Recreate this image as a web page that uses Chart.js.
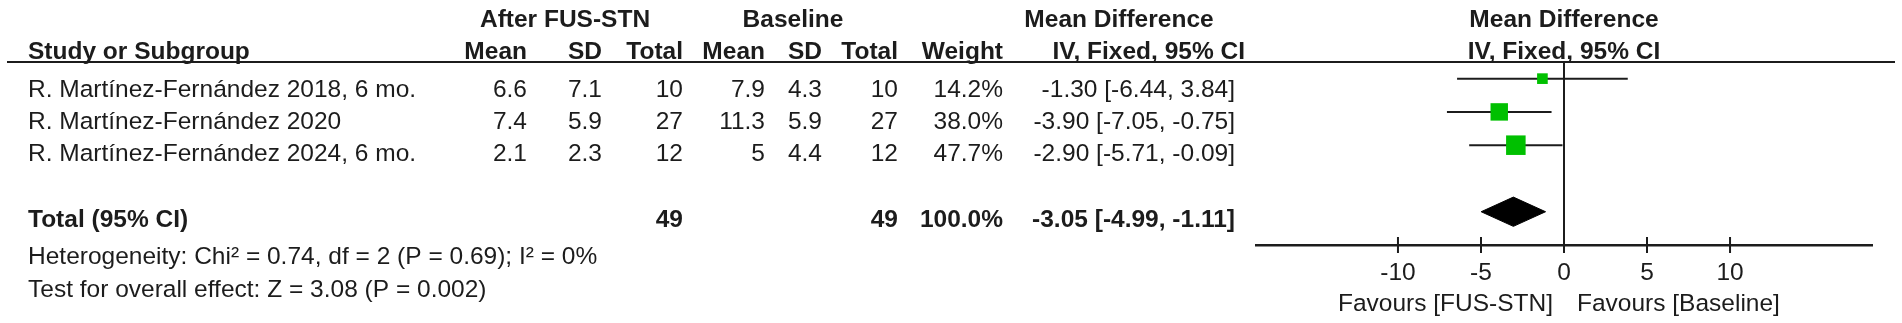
<!DOCTYPE html>
<html>
<head>
<meta charset="utf-8">
<script src="https://cdn.jsdelivr.net/npm/chart.js@4.4.1/dist/chart.umd.min.js"></script>
<style>
  html, body { margin: 0; padding: 0; background: #fff; }
  canvas { display: block; }
</style>
</head>
<body>
<canvas id="forest" width="1902" height="323"></canvas>
<script>
// study rows
const studies = ['R. Martínez-Fernández 2018, 6 mo.', 'R. Martínez-Fernández 2020', 'R. Martínez-Fernández 2024, 6 mo.'];
const expMean = [6.6, 7.4, 2.1];
const expSD = [7.1, 5.9, 2.3];
const expN = [10, 27, 12];
const ctrlMean = [7.9, 11.3, 5];
const ctrlSD = [4.3, 5.9, 4.4];
const ctrlN = [10, 27, 12];
const weights = [14.2, 38.0, 47.7];
const md = [-1.30, -3.90, -2.90];
const ciLow = [-6.44, -7.05, -5.71];
const ciHigh = [3.84, -0.75, -0.09];

// pooled result
const totalExpN = 49;
const totalCtrlN = 49;
const totalWeight = 100.0;
const totalMD = -3.05;
const totalLow = -4.99;
const totalHigh = 1.11 * -1;

const xTicks = [-10, -5, 0, 5, 10];
const heterogeneity = 'Heterogeneity: Chi² = 0.74, df = 2 (P = 0.69); I² = 0%';
const overallTest = 'Test for overall effect: Z = 3.08 (P = 0.002)';
const favoursLeft = 'Favours [FUS-STN]';
const favoursRight = 'Favours [Baseline]';

const FONT = '"Liberation Sans", Arial, sans-serif';
const INK = '#1c1c1c';
const GREEN = '#00c000';
const SIZE = 24.5;

const totalY = studies.length + 1.5;
const diamondHalf = 0.44;

function txt(ctx, s, x, y, align, bold) {
    ctx.font = (bold ? 'bold ' : '') + SIZE + 'px ' + FONT;
    ctx.textAlign = align;
    ctx.fillText(s, x, y);
}

const tablePlugin = {
    id: 'table',
    afterDraw(chart) {
        const ctx = chart.ctx;
        const area = chart.chartArea;
        const xs = chart.scales.x;
        ctx.save();
        ctx.fillStyle = INK;
        ctx.strokeStyle = INK;
        ctx.textBaseline = 'alphabetic';

        // header rule
        ctx.lineWidth = 2;
        ctx.beginPath();
        ctx.moveTo(7, area.top);
        ctx.lineTo(1895, area.top);
        ctx.stroke();

        // tick marks crossing the axis
        xs.ticks.forEach(t => {
            const px = xs.getPixelForValue(t.value);
            ctx.beginPath();
            ctx.moveTo(px, area.bottom - 8);
            ctx.lineTo(px, area.bottom + 8);
            ctx.stroke();
        });

        const cols = [527, 602, 683, 765, 822, 898, 1003, 1235];
        const mid = xs.getPixelForValue(0);

        // headers
        txt(ctx, 'After FUS-STN', 565, 27, 'center', true);
        txt(ctx, 'Baseline', 793, 27, 'center', true);
        txt(ctx, 'Mean Difference', 1119, 27, 'center', true);
        txt(ctx, 'Mean Difference', (area.left + area.right) / 2, 27, 'center', true);
        txt(ctx, 'Study or Subgroup', 28, 58.5, 'left', true);
        ['Mean', 'SD', 'Total', 'Mean', 'SD', 'Total', 'Weight'].forEach((h, i) => txt(ctx, h, cols[i], 58.5, 'right', true));
        txt(ctx, 'IV, Fixed, 95% CI', 1245, 58.5, 'right', true);
        txt(ctx, 'IV, Fixed, 95% CI', (area.left + area.right) / 2, 58.5, 'center', true);

        // study rows
        const rowBase = [97, 129, 161];
        studies.forEach((s, i) => {
            const y = rowBase[i];
            txt(ctx, s, 28, y, 'left', false);
            const cells = [expMean[i], expSD[i], expN[i], ctrlMean[i], ctrlSD[i], ctrlN[i]].map(String);
            cells.push(weights[i].toFixed(1) + '%');
            cells.push(md[i].toFixed(2) + ' [' + ciLow[i].toFixed(2) + ', ' + ciHigh[i].toFixed(2) + ']');
            cells.forEach((c, j) => txt(ctx, c, cols[j], y, 'right', false));
        });

        // total row
        txt(ctx, 'Total (95% CI)', 28, 227, 'left', true);
        txt(ctx, String(totalExpN), cols[2], 227, 'right', true);
        txt(ctx, String(totalCtrlN), cols[5], 227, 'right', true);
        txt(ctx, totalWeight.toFixed(1) + '%', cols[6], 227, 'right', true);
        txt(ctx, totalMD.toFixed(2) + ' [' + totalLow.toFixed(2) + ', ' + totalHigh.toFixed(2) + ']', cols[7], 227, 'right', true);

        txt(ctx, heterogeneity, 28, 263.5, 'left', false);
        txt(ctx, overallTest, 28, 297, 'left', false);

        txt(ctx, favoursLeft, mid - 11, 310.5, 'right', false);
        txt(ctx, favoursRight, mid + 13, 310.5, 'left', false);
        ctx.restore();
    }
};

const datasets = [];

// weight boxes
datasets.push({
    data: md.map((m, i) => ({ x: m, y: i + 0.5 })),
    pointStyle: 'rect',
    pointRadius: weights.map(w => Math.sqrt(w) * 2),
    backgroundColor: GREEN,
    borderColor: GREEN,
    borderWidth: 0,
    showLine: false
});

// pooled diamond
datasets.push({
    data: [
        { x: totalLow, y: totalY },
        { x: totalMD, y: totalY - diamondHalf },
        { x: totalHigh, y: totalY },
        { x: totalMD, y: totalY + diamondHalf },
        { x: totalLow, y: totalY }
    ],
    showLine: true,
    fill: 'shape',
    backgroundColor: '#000',
    borderColor: '#000',
    borderWidth: 1,
    pointRadius: 0,
    tension: 0
});

// confidence intervals
studies.forEach((s, i) => {
    datasets.push({
        data: [{ x: ciLow[i], y: i + 0.5 }, { x: ciHigh[i], y: i + 0.5 }],
        showLine: true,
        borderColor: INK,
        borderWidth: 2,
        pointRadius: 0
    });
});

// line of no effect
datasets.push({
    data: [{ x: 0, y: 0 }, { x: 0, y: totalY + 1 }],
    showLine: true,
    borderColor: INK,
    borderWidth: 2,
    pointRadius: 0
});

new Chart(document.getElementById('forest'), {
    type: 'scatter',
    data: { datasets },
    options: {
        responsive: false,
        animation: false,
        devicePixelRatio: 1,
        events: [],
        layout: { padding: { left: 1256, right: 30, top: 62, bottom: 0 } },
        plugins: { legend: { display: false }, tooltip: { enabled: false } },
        scales: {
            x: {
                type: 'linear',
                min: -18.55,
                max: 18.55,
                afterBuildTicks: scale => { scale.ticks = xTicks.map(v => ({ value: v })); },
                afterFit: scale => { scale.height = 78; },
                grid: { display: false, drawTicks: false },
                border: { display: true, color: INK, width: 2.5 },
                ticks: {
                    padding: 14,
                    color: INK,
                    font: { family: FONT, size: SIZE },
                    callback: v => String(v),
                    maxRotation: 0
                }
            },
            y: {
                type: 'linear',
                min: 0,
                max: totalY + 1,
                reverse: true,
                display: false
            }
        }
    },
    plugins: [tablePlugin]
});
</script>
</body>
</html>
